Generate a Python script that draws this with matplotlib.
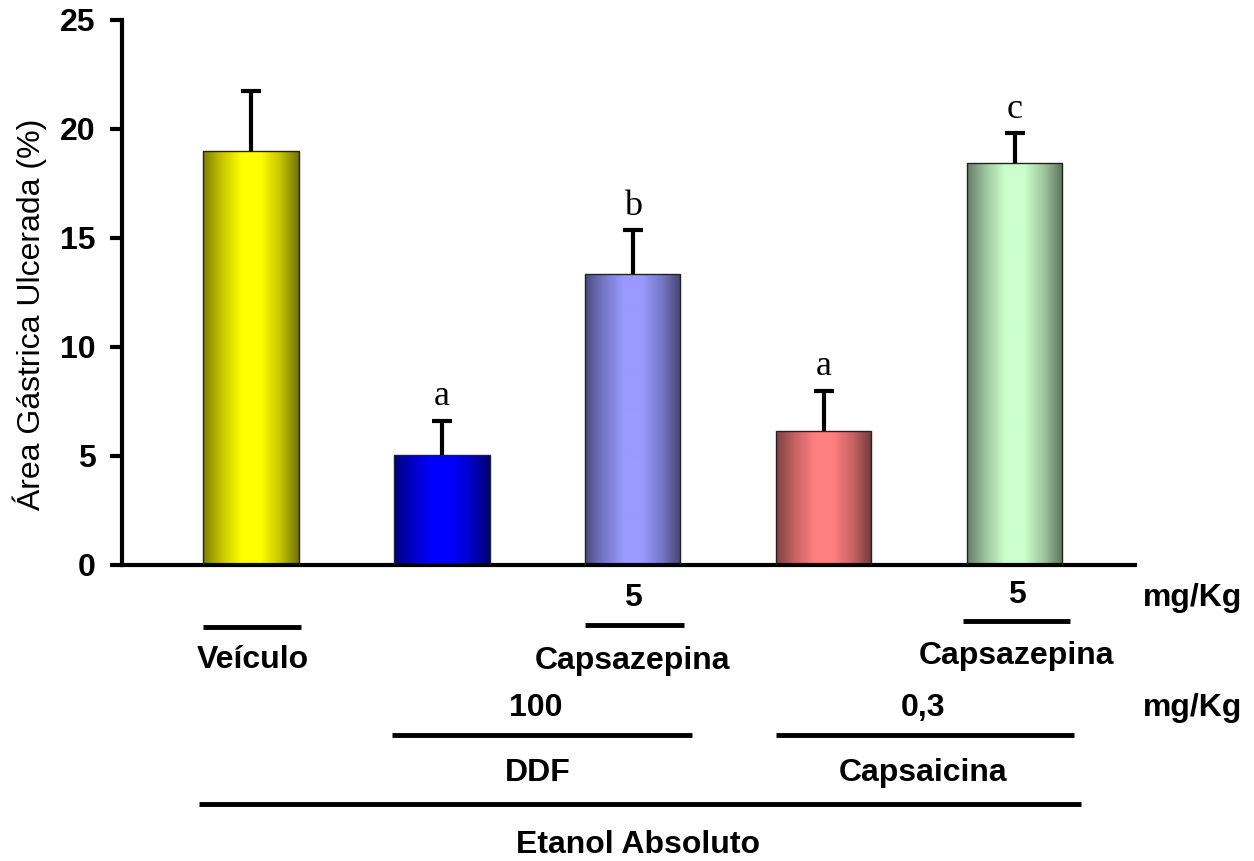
import matplotlib
matplotlib.use("Agg")
import matplotlib.pyplot as plt
import numpy as np
from matplotlib.colors import LinearSegmentedColormap, to_rgb
from matplotlib.transforms import blended_transform_factory

plt.rcParams['font.family'] = ['Liberation Sans', 'DejaVu Sans']

# grupos (media +- EPM)
groups = ['Veículo', 'DDF 100', 'DDF + Capsazepina', 'Capsaicina 0,3', 'Capsaicina + Capsazepina']
means = [19.0, 5.05, 13.35, 6.15, 18.45]
sems = [2.75, 1.55, 2.0, 1.85, 1.35]
letters = ['', 'a', 'b', 'a', 'c']
colors = ['#ffff00', '#0000ff', '#9999ff', '#ff8080', '#ccffcc']

x = np.arange(len(means))
width = 0.5

fig = plt.figure(figsize=(12.54, 8.61), dpi=100)
ax = fig.add_axes([0.0973, 0.3438, 0.8077, 0.633])

bars = ax.bar(x, means, width, color='none', edgecolor='#222222', linewidth=1.0, zorder=3)

# sombreamento tipo cilindro em cada barra
t = np.linspace(0, 1, 256)
for b, c in zip(bars, colors):
    base = np.array(to_rgb(c))
    cmap = LinearSegmentedColormap.from_list('g', [base * 0.5, base * 0.78, base, base, base * 0.78, base * 0.45])
    grad = np.vstack([t, t])
    bx, by = b.get_x(), b.get_y()
    im = ax.imshow(grad, cmap=cmap, aspect='auto', interpolation='bicubic',
                   extent=[bx, bx + b.get_width(), by, by + b.get_height()], zorder=2)
    im.set_clip_path(b)

# barra de erro so para cima
tops = np.array(means) + np.array(sems)
ax.vlines(x, means, tops, color='black', lw=3, zorder=4)
ax.plot(x, tops, ls='none', marker='_', markersize=15, mew=3, color='black', zorder=4)

for xi, tp, l in zip(x, tops, letters):
    if l:
        ax.text(xi, tp + 0.35, l, ha='center', va='bottom', fontsize=26,
                family=['Liberation Serif', 'DejaVu Serif'], zorder=5)

ax.set_xlim(-0.675, 4.63)
ax.set_ylim(0, 25)
ax.set_yticks([0, 5, 10, 15, 20, 25])
ax.set_xticks([])
for lbl in ax.get_yticklabels():
    lbl.set_fontweight('bold')
ax.tick_params(axis='y', labelsize=23, width=3, length=9, pad=10)
ax.spines['top'].set_visible(False)
ax.spines['right'].set_visible(False)
ax.spines['left'].set_linewidth(3)
ax.spines['bottom'].set_linewidth(3)
ax.set_ylabel('Área Gástrica Ulcerada (%)', fontsize=23)
ax.yaxis.set_label_coords(-0.074, 0.46)

# legenda dos tratamentos abaixo do eixo
tr = blended_transform_factory(ax.transData, ax.transAxes)
lab = dict(transform=tr, ha='center', va='center', fontsize=23, fontweight='bold', clip_on=False)

def hline(x0, x1, y):
    ax.plot([x0, x1], [y, y], color='black', lw=3.5, transform=tr, clip_on=False, solid_capstyle='butt')

hw = width / 2
ax.text(x[2], -0.061, '5', **lab)
ax.text(x[4] + 0.01, -0.055, '5', **lab)
ax.text(4.93, -0.061, 'mg/Kg', **lab)
hline(x[0] - hw, x[0] + hw + 0.01, -0.114)
hline(x[2] - hw, x[2] + hw + 0.02, -0.110)
hline(x[4] - hw - 0.02, x[4] + hw + 0.04, -0.103)
ax.text(x[0] + 0.01, -0.174, 'Veículo', **lab)
ax.text(x[2], -0.176, 'Capsazepina', **lab)
ax.text(x[4] + 0.01, -0.167, 'Capsazepina', **lab)
ax.text(1.49, -0.262, '100', **lab)
ax.text(3.52, -0.262, '0,3', **lab)
ax.text(4.93, -0.262, 'mg/Kg', **lab)
hline(x[1] - hw - 0.01, x[2] + hw + 0.06, -0.312)
hline(x[3] - hw, x[4] + hw + 0.06, -0.312)
ax.text(1.5, -0.382, 'DDF', **lab)
ax.text(3.52, -0.382, 'Capsaicina', **lab)
hline(x[0] - hw - 0.02, x[4] + hw + 0.1, -0.439)
ax.text(2.03, -0.514, 'Etanol Absoluto', **lab)

fig.savefig('out.png', dpi=100)
